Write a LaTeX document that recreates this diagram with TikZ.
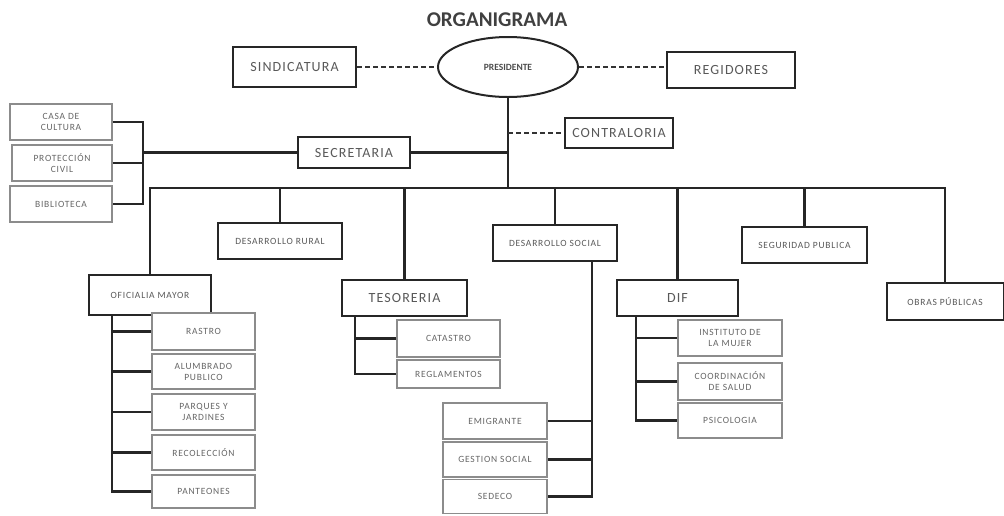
\documentclass[tikz,border=0pt]{standalone}
\usepackage{fontspec}
\setmainfont{Carlito}
\newfontfamily\spacedfont[LetterSpace=8]{Carlito}
\usetikzlibrary{shapes.geometric}
\begin{document}
\begin{tikzpicture}[x=1pt,y=-1pt,
  mainbox/.style={draw=black!85, line width=2pt, fill=white, inner sep=0pt,
    font=\spacedfont\fontsize{14}{15}\selectfont, text=black!65, align=center},
  midbox/.style={mainbox, font=\spacedfont\fontsize{9.5}{11}\selectfont},
  subbox/.style={draw=black!45, line width=1.5pt, fill=white, inner sep=0pt,
    font=\spacedfont\fontsize{9.5}{11}\selectfont, text=black!60, align=center},
  conn/.style={line width=2.2pt, draw=black!85},
  dashconn/.style={line width=1.6pt, draw=black!80, dash pattern=on 5pt off 3pt},
]
\useasboundingbox (0,0) rectangle (1004,515);

% title
\node[font=\bfseries\fontsize{21}{23}\selectfont, text=black!75] (title) at (497,20) {ORGANIGRAMA};

% top level
\node[mainbox, minimum width=123pt, minimum height=40pt] (sind) at (294.5,67) {SINDICATURA};
\node[draw=black!85, line width=2pt, ellipse, minimum width=140pt, minimum height=60pt, inner sep=0pt,
      font=\bfseries\fontsize{9.5}{11}\selectfont, text=black!70] (pres) at (508,67) {PRESIDENTE};
\node[mainbox, minimum width=128pt, minimum height=36pt] (reg) at (731,70) {REGIDORES};
\node[mainbox, minimum width=108pt, minimum height=30pt] (contra) at (619,133) {CONTRALORIA};
\node[mainbox, minimum width=112pt, minimum height=31pt] (secre) at (354,152.5) {SECRETARIA};

% left group
\node[subbox, minimum width=102pt, minimum height=36pt] (casa) at (61,122) {CASA DE\\CULTURA};
\node[subbox, minimum width=100pt, minimum height=36pt] (prot) at (62,163) {PROTECCIÓN\\CIVIL};
\node[subbox, minimum width=102pt, minimum height=36pt] (biblio) at (61,204) {BIBLIOTECA};
\coordinate (bk) at (143,152.5);

% second level
\coordinate (bus) at (150,188);
\node[midbox, minimum width=122pt, minimum height=40pt] (ofic) at (150,295) {OFICIALIA MAYOR};
\node[midbox, minimum width=124pt, minimum height=36pt] (drural) at (280,241) {DESARROLLO RURAL};
\node[mainbox, minimum width=125pt, minimum height=36pt] (teso) at (404.5,298) {TESORERIA};
\node[midbox, minimum width=124pt, minimum height=36pt] (dsocial) at (555,243) {DESARROLLO SOCIAL};
\node[mainbox, minimum width=121pt, minimum height=36pt] (dif) at (677.5,298) {DIF};
\node[midbox, minimum width=125pt, minimum height=36pt] (segur) at (804.5,245) {SEGURIDAD PUBLICA};
\node[midbox, minimum width=117pt, minimum height=37pt] (obras) at (945,301.5) {OBRAS PÚBLICAS};

% oficialia children
\node[subbox, minimum width=103pt, minimum height=37pt] (rastro) at (203.5,331.5) {RASTRO};
\node[subbox, minimum width=103pt, minimum height=35pt] (alum) at (203.5,371.5) {ALUMBRADO\\PUBLICO};
\node[subbox, minimum width=103pt, minimum height=36pt] (parq) at (203.5,412) {PARQUES Y\\JARDINES};
\node[subbox, minimum width=103pt, minimum height=35pt] (recol) at (203.5,452.5) {RECOLECCIÓN};
\node[subbox, minimum width=103pt, minimum height=33pt] (pant) at (203.5,491.5) {PANTEONES};
\coordinate (oc) at (112,315);

% tesoreria children
\node[subbox, minimum width=103pt, minimum height=37pt] (catastro) at (448.5,338.5) {CATASTRO};
\node[subbox, minimum width=103pt, minimum height=28pt] (regla) at (448.5,374) {REGLAMENTOS};
\coordinate (tc) at (355,316);

% desarrollo social children
\node[subbox, minimum width=104pt, minimum height=36pt] (emig) at (495,421) {EMIGRANTE};
\node[subbox, minimum width=104pt, minimum height=35pt] (gestion) at (495,459.5) {GESTION SOCIAL};
\node[subbox, minimum width=104pt, minimum height=34pt] (sedeco) at (495,496.5) {SEDECO};
\coordinate (dc) at (592,261);

% dif children
\node[subbox, minimum width=104pt, minimum height=36pt] (inst) at (730,338) {INSTITUTO DE\\LA MUJER};
\node[subbox, minimum width=104pt, minimum height=37pt] (coord) at (730,381.5) {COORDINACIÓN\\DE SALUD};
\node[subbox, minimum width=104pt, minimum height=35pt] (psico) at (730,420.5) {PSICOLOGIA};
\coordinate (fc) at (636,316);

% connectors: top
\draw[dashconn] (sind.east) -- (pres.west);
\draw[dashconn] (pres.east) -- (pres.east -| reg.west);
\draw[conn] (pres.south) -- (pres.south |- bus);
\draw[dashconn] (pres.south |- contra.west) -- (contra.west);
\draw[conn] (secre.east) -- (pres.south |- secre.east);
\draw[conn] (secre.west) -- (bk);
\draw[conn] (casa.east) -- (casa.east -| bk) -- (biblio.east -| bk) -- (biblio.east);
\draw[conn] (prot.east) -- (prot.east -| bk);

% bus
\draw[conn] (ofic.north) -- (ofic.north |- bus) -- (bus -| obras.north) -- (obras.north);
\foreach \n in {drural,teso,dsocial,dif,segur}
  \draw[conn] (\n.north) -- (\n.north |- bus);

% children connectors
\draw[conn] (oc) |- (pant.west);
\foreach \n in {rastro,alum,parq,recol}
  \draw[conn] (oc |- \n.west) -- (\n.west);
\draw[conn] (tc) |- (regla.west);
\draw[conn] (tc |- catastro.west) -- (catastro.west);
\draw[conn] (dc) |- (sedeco.east);
\foreach \n in {emig,gestion}
  \draw[conn] (dc |- \n.east) -- (\n.east);
\draw[conn] (fc) |- (psico.west);
\foreach \n in {inst,coord}
  \draw[conn] (fc |- \n.west) -- (\n.west);
\end{tikzpicture}
\end{document}
